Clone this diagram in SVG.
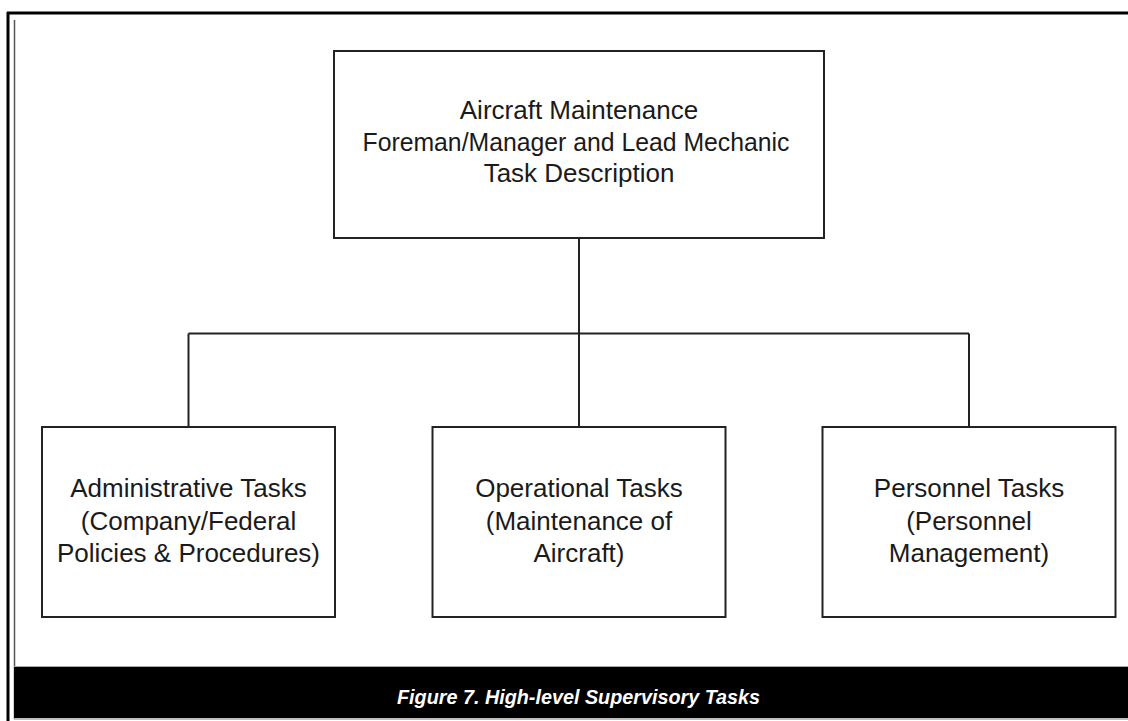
<svg xmlns="http://www.w3.org/2000/svg" width="1128" height="721" viewBox="0 0 1128 721">
  <style>
    .box { fill: #ffffff; stroke: #222222; stroke-width: 2; }
    .wire { fill: none; stroke: #222222; stroke-width: 2; }
    .label { font-family: "Liberation Sans", Arial, sans-serif; font-size: 26px; fill: #1a1a1a; text-anchor: middle; }
    .caption { font-family: "Liberation Sans", Arial, sans-serif; font-size: 21px; font-weight: bold; font-style: italic; fill: #ffffff; text-anchor: middle; }
  </style>

  <rect x="0" y="0" width="1128" height="721" fill="#ffffff"/>

  <!-- page frame -->
  <g id="frame">
    <line x1="7" y1="13" x2="1128" y2="13" stroke="#000000" stroke-width="3"/>
    <line x1="8" y1="12" x2="8" y2="721" stroke="#000000" stroke-width="3"/>
    <line x1="14.5" y1="20" x2="14.5" y2="719" stroke="#555555" stroke-width="1.5"/>
  </g>

  <!-- connectors -->
  <g id="connectors">
    <line class="wire" x1="579" y1="238" x2="579" y2="427"/>
    <line class="wire" x1="188.5" y1="333.5" x2="969" y2="333.5"/>
    <line class="wire" x1="188.5" y1="333.5" x2="188.5" y2="427"/>
    <line class="wire" x1="969" y1="333.5" x2="969" y2="427"/>
  </g>

  <g id="node-root">
    <rect class="box" x="334" y="51" width="490" height="187"/>
    <text class="label" x="579" y="119">Aircraft Maintenance</text>
    <text class="label" x="576" y="150.5" textLength="427" lengthAdjust="spacingAndGlyphs">Foreman/Manager and Lead Mechanic</text>
    <text class="label" x="579" y="182">Task Description</text>
  </g>

  <g id="node-administrative">
    <rect class="box" x="42" y="427" width="293" height="190"/>
    <text class="label" x="188.5" y="497">Administrative Tasks</text>
    <text class="label" x="188.5" y="529.5">(Company/Federal</text>
    <text class="label" x="188.5" y="562">Policies &amp; Procedures)</text>
  </g>

  <g id="node-operational">
    <rect class="box" x="432.5" y="427" width="293" height="190"/>
    <text class="label" x="579" y="497">Operational Tasks</text>
    <text class="label" x="579" y="529.5">(Maintenance of</text>
    <text class="label" x="579" y="562">Aircraft)</text>
  </g>

  <g id="node-personnel">
    <rect class="box" x="822.5" y="427" width="293" height="190"/>
    <text class="label" x="969" y="497">Personnel Tasks</text>
    <text class="label" x="969" y="529.5">(Personnel</text>
    <text class="label" x="969" y="562">Management)</text>
  </g>

  <!-- caption band -->
  <g id="caption">
    <line x1="14" y1="666.5" x2="1128" y2="666.5" stroke="#aaaaaa" stroke-width="1"/>
    <rect x="14" y="667" width="1114" height="51" fill="#000000"/>
    <line x1="14" y1="719" x2="1128" y2="719" stroke="#aaaaaa" stroke-width="1.5"/>
    <text class="caption" x="578.5" y="704" textLength="363" lengthAdjust="spacingAndGlyphs">Figure 7. High-level  Supervisory Tasks</text>
  </g>
</svg>
